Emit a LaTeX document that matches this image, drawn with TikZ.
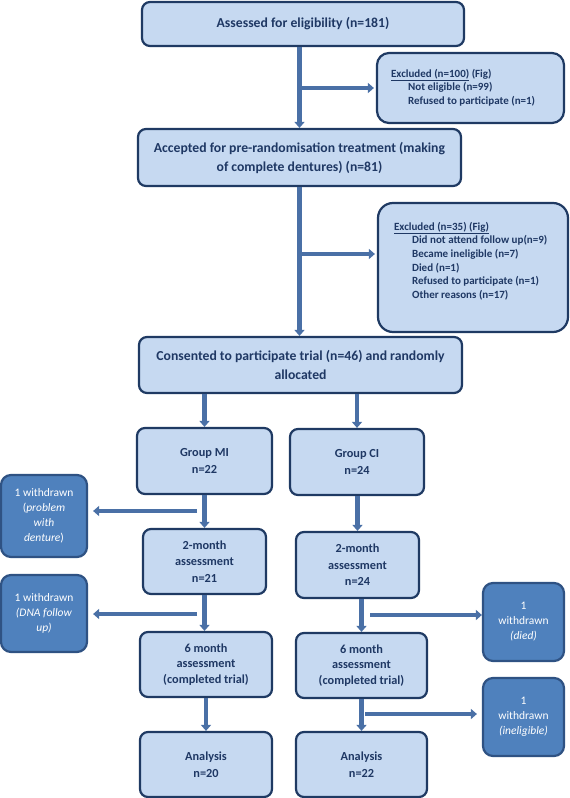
\documentclass[tikz,border=0pt]{standalone}
\usepackage{fontspec}
\setmainfont{Carlito}
\usetikzlibrary{arrows.meta,calc}
\definecolor{boxfill}{HTML}{C6D9F1}
\definecolor{boxline}{HTML}{1F3A63}
\definecolor{txt}{HTML}{1F3864}
\definecolor{arrc}{HTML}{4A70A6}
\definecolor{wfill}{HTML}{4F81BD}
\definecolor{wline}{HTML}{2F5283}
\begin{document}
\begin{tikzpicture}[x=1pt,y=-1pt,
 mainbox/.style={draw=boxline, fill=boxfill, line width=2.2pt, rounded corners=8pt, text=txt, font=\bfseries\fontsize{13.7}{19}\selectfont, align=center, inner sep=0pt},
 grpbox/.style={mainbox, font=\bfseries\fontsize{12.3}{16.5}\selectfont},
 exbox/.style={mainbox, rounded corners=15pt},
 extxt/.style={text=txt, font=\bfseries\fontsize{11}{13.6}\selectfont, align=left, inner sep=0pt, anchor=north west},
 wbox/.style={draw=wline, fill=wfill, line width=2.2pt, rounded corners=10pt, text=white, font=\fontsize{11.5}{15}\selectfont, align=center, inner sep=0pt},
 arr/.style={draw=arrc, line width=4.5pt, -{Triangle[width=10pt,length=6pt]}}
]
\useasboundingbox (0,0) rectangle (570,798);
\fill[white] (0,0) rectangle (570,798);

% main boxes
\node[mainbox, minimum width=322pt, minimum height=44pt] (a) at (303,24) {Assessed for eligibility (n=181)};
\node[exbox, minimum width=187pt, minimum height=70pt, rounded corners=12pt] (ex1) at (470.5,88) {};
\node[extxt] (ex1t) at ([xshift=15pt,yshift=-17pt]ex1.north west) {\underline{Excluded (n=100)} (Fig)\\\hspace*{17pt}Not eligible (n=99)\\\hspace*{17pt}Refused to participate (n=1)};
\node[mainbox, minimum width=323pt, minimum height=57pt] (b) at (299.5,157.5) {Accepted for pre-randomisation treatment (making\\of complete dentures) (n=81)};
\node[exbox, minimum width=190pt, minimum height=129pt] (ex2) at (473,267.5) {};
\node[extxt] (ex2t) at ([xshift=17pt,yshift=-20pt]ex2.north west) {\underline{Excluded (n=35) (Fig)}\\\hspace*{18pt}Did not attend follow up(n=9)\\\hspace*{18pt}Became ineligible (n=7)\\\hspace*{18pt}Died (n=1)\\\hspace*{18pt}Refused to participate (n=1)\\\hspace*{18pt}Other reasons (n=17)};
\node[mainbox, minimum width=323pt, minimum height=56pt] (c) at (300.5,365) {Consented to participate trial (n=46) and randomly\\allocated};

% groups
\node[grpbox, minimum width=135pt, minimum height=66pt] (mi) at (204.5,461) {Group MI\\n=22};
\node[grpbox, minimum width=134pt, minimum height=66pt] (ci) at (357,462) {Group CI\\n=24};
\node[grpbox, minimum width=123pt, minimum height=65pt] (mi2) at (204.5,561.5) {2-month\\assessment\\n=21};
\node[grpbox, minimum width=123pt, minimum height=66pt] (ci2) at (357.5,565) {2-month\\assessment\\n=24};
\node[grpbox, minimum width=132pt, minimum height=65pt, font=\bfseries\fontsize{12.3}{15.5}\selectfont] (mi6) at (206,664.5) {6 month\\assessment\\(completed trial)};
\node[grpbox, minimum width=131pt, minimum height=65pt, font=\bfseries\fontsize{12.3}{15.5}\selectfont] (ci6) at (361.5,665.5) {6 month\\assessment\\(completed trial)};
\node[grpbox, minimum width=132pt, minimum height=65pt] (mia) at (206,764.5) {Analysis\\n=20};
\node[grpbox, minimum width=131pt, minimum height=65pt] (cia) at (361.5,764.5) {Analysis\\n=22};

% withdrawn boxes
\node[wbox, minimum width=86pt, minimum height=82pt] (w1) at (44,516) {1 withdrawn\\(\textit{problem}\\\textit{with}\\\textit{denture})};
\node[wbox, minimum width=86pt, minimum height=77pt] (w2) at (44,613.5) {1 withdrawn\\\textit{(DNA follow}\\\textit{up)}};
\node[wbox, minimum width=81pt, minimum height=78pt] (w3) at (523.5,622) {1\\withdrawn\\\textit{(died)}};
\node[wbox, minimum width=81pt, minimum height=78pt] (w4) at (523.5,717) {1\\withdrawn\\\textit{(ineligible)}};

% connectors
\draw[arr] (a.south -| b.north) -- (b.north);
\draw[arr, shorten >=2pt] (b.north |- ex1.west) -- (ex1.west);
\coordinate (e2) at ([yshift=13.5pt]ex2.west);
\draw[arr] (b.south) -- (b.south |- c.north);
\draw[arr, shorten >=2pt] (b.south |- e2) -- (e2);
\draw[arr] (c.south -| mi.north) -- (mi.north);
\draw[arr] (c.south -| ci.north) -- (ci.north);
\draw[arr] (mi.south) -- (mi2.north);
\draw[arr] (mi2.south) -- (mi2.south |- mi6.north);
\draw[arr] (mi6.south) -- (mia.north);
\draw[arr] (ci.south -| ci2.north) -- (ci2.north);
\draw[arr] (ci2.south -| ci6.north) -- (ci6.north);
\draw[arr] (ci6.south) -- (cia.north);

\coordinate (w1s) at (197,511);
\coordinate (w2s) at (197,614);
\coordinate (w3s) at (370,615);
\coordinate (w4s) at (365,714);
\draw[arr, shorten >=5pt] (w1s) -- (w1s -| w1.east);
\draw[arr, shorten >=5pt] (w2s) -- (w2s -| w2.east);
\draw[arr] (w3s) -- (w3s -| w3.west);
\draw[arr, shorten >=5pt] (w4s) -- (w4s -| w4.west);
\end{tikzpicture}
\end{document}
